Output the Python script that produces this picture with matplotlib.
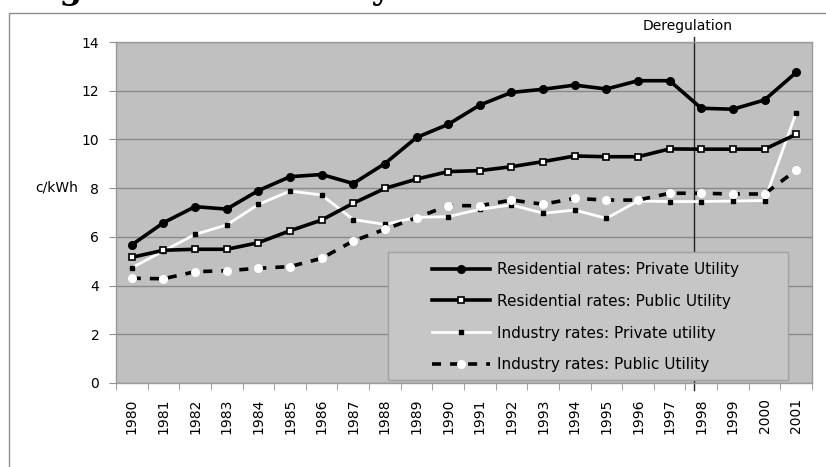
import matplotlib
matplotlib.use('Agg')
import matplotlib.pyplot as plt
from matplotlib.patches import Rectangle

plt.rcParams['font.family'] = ['DejaVu Sans']

years = [str(y) for y in range(1980, 2002)]
res_private = [5.67, 6.58, 7.24, 7.14, 7.90, 8.47, 8.56, 8.19, 9.01, 10.08, 10.62,
               11.41, 11.93, 12.06, 12.23, 12.07, 12.41, 12.41, 11.28, 11.24, 11.62, 12.75]
res_public = [5.16, 5.45, 5.49, 5.49, 5.76, 6.25, 6.69, 7.38, 7.99, 8.37, 8.68,
              8.72, 8.88, 9.09, 9.32, 9.29, 9.29, 9.61, 9.60, 9.60, 9.60, 10.21]
ind_private = [4.73, 5.42, 6.10, 6.49, 7.33, 7.88, 7.72, 6.71, 6.51, 6.80, 6.83,
               7.13, 7.31, 6.97, 7.10, 6.76, 7.47, 7.45, 7.45, 7.47, 7.49, 11.10]
ind_public = [4.30, 4.28, 4.57, 4.61, 4.71, 4.78, 5.12, 5.83, 6.31, 6.79, 7.28,
              7.28, 7.51, 7.34, 7.58, 7.51, 7.51, 7.79, 7.79, 7.76, 7.76, 8.74]
labels = ['Residential rates: Private Utility', 'Residential rates: Public Utility',
          'Industry rates: Private utility', 'Industry rates: Public Utility']
y_ticks = [0, 2, 4, 6, 8, 10, 12, 14]
dereg_pos = 17.78
dereg_label = 'Deregulation'
title_text = 'Figure 2: Electricity'

W, H = 826, 467
fig = plt.figure(figsize=(W / 100, H / 100), dpi=100)
fig.patch.set_facecolor('white')

# outer frame (extends past right and bottom edges)
fig.add_artist(Rectangle((9 / W, -0.1), 1.0, 1 - 13 / H + 0.1, transform=fig.transFigure,
                         fill=False, edgecolor='#8c8c8c', lw=1.0, clip_on=False))

# clipped title (only descenders visible, as in the reference)
fig.text(24 / W, 1 + 1.5 / H, title_text, fontsize=23.5, fontweight='bold',
         family='DejaVu Serif', ha='left', va='baseline')

ax = fig.add_axes([116 / W, 1 - 383 / H, 696 / W, 341 / H])
x = list(range(len(years)))
ax.set_facecolor('#c0c0c0')

ax.plot(x, res_private, color='black', lw=2.6, marker='o', ms=5.5,
        mfc='black', mec='black', label=labels[0], zorder=4)
ax.plot(x, res_public, color='black', lw=2.6, marker='s', ms=5,
        mfc='white', mec='black', mew=1.2, label=labels[1], zorder=4)
ax.plot(x, ind_private, color='white', lw=2.0, marker='s', ms=2.5,
        mfc='black', mec='black', label=labels[2], zorder=3)
ax.plot(x, ind_public, color='black', lw=2.6, dashes=(2.5, 2.5), marker='o', ms=5.5,
        mfc='white', mec='white', label=labels[3], zorder=3)

ax.set_xlim(-0.5, len(years) - 0.5)
ax.set_ylim(0, 14)
ax.set_yticks(y_ticks)
ax.grid(axis='y', color='#8a8a8a', lw=1)
ax.set_axisbelow(True)
ax.set_xticks(x)
ax.set_xticklabels(years, rotation=90, fontsize=10)
ax.set_xticks([i - 0.5 for i in range(len(years) + 1)], minor=True)
ax.tick_params(axis='x', which='major', length=0, pad=11)
ax.tick_params(axis='x', which='minor', length=5, color='#909090')
ax.tick_params(axis='y', length=5, color='#909090', pad=7, labelsize=10)
for s in ax.spines.values():
    s.set_color('#9a9a9a')
    s.set_linewidth(1)

# deregulation marker
ax.plot([dereg_pos, dereg_pos], [14.2, -0.3], color='#222222', lw=1.0,
        clip_on=False, zorder=2)
ax.text(dereg_pos - 0.2, 14.5, dereg_label, ha='center', va='baseline', fontsize=10)

fig.text(57 / W, 1 - 188 / H, 'c/kWh', ha='center', va='center', fontsize=10)

# legend box
ax.add_patch(Rectangle((388 / W, 1 - 380 / H), 400 / W, 128 / H, transform=fig.transFigure,
                       facecolor='#c6c6c6', edgecolor='#a0a0a0', lw=1, zorder=6))
leg = ax.legend(loc='upper left', bbox_to_anchor=(432 / W, 1 - 262 / H),
                bbox_transform=fig.transFigure, frameon=False, fontsize=11,
                handlelength=3.8, handletextpad=0.45, labelspacing=1.1,
                borderpad=0, borderaxespad=0)
leg.set_zorder(7)

fig.savefig('out.png', dpi=100)
